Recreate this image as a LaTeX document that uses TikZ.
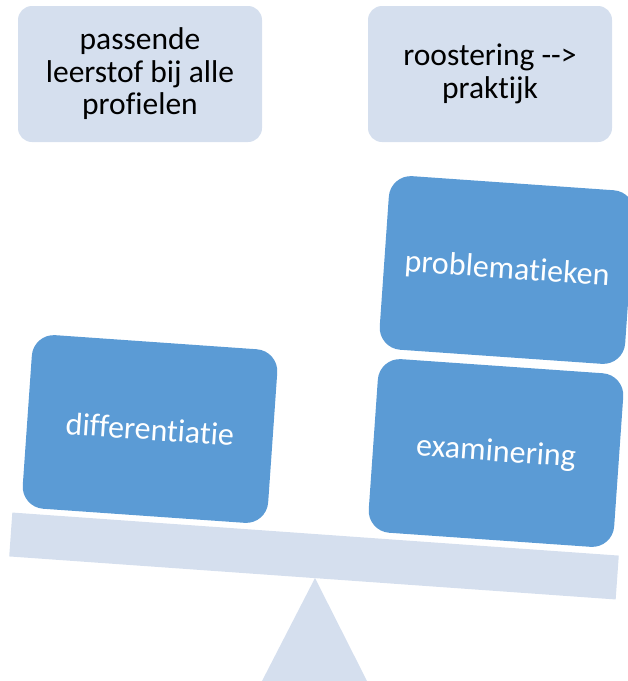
\documentclass[tikz,border=0pt]{standalone}
\usepackage{fontspec}
\setmainfont{Carlito}[Ligatures={TeX,NoCommon}]
\usepackage{xcolor}
\definecolor{lichtblauw}{HTML}{D5DFEE}
\definecolor{middenblauw}{HTML}{5B9BD5}

\begin{document}
\begin{tikzpicture}[
  x=1pt, y=-1pt,
  every node/.style={font=\fontsize{31.5}{32.5}\selectfont, align=center, inner sep=0pt},
  bovenblok/.style={fill=lichtblauw, rounded corners=14pt, minimum width=244pt, minimum height=136pt},
  blok/.style={fill=middenblauw, text=white, font=\fontsize{32}{34}\selectfont, rounded corners=22pt, minimum width=246pt, minimum height=174pt, rotate=-4}
]
\useasboundingbox (0,0) rectangle (628,681);
\node[bovenblok] (leerstof) at (140,74) {passende\\leerstof bij alle\\profielen};
\node[bovenblok] (rooster) at (490,74) {roostering -{}->\\praktijk};

% wip met balk
\fill[lichtblauw] (315,578) -- (367,681) -- (262,681) -- cycle;
\node[fill=lichtblauw, minimum width=608pt, minimum height=44pt, rotate=-4.06] (balk) at (314,556) {};

\node[blok] (diff) at (150,429) {differentiatie};
\node[blok] (exam) at (496,453) {examinering};
\node[blok] (probl) at (507,270) {problematieken};
\end{tikzpicture}
\end{document}
